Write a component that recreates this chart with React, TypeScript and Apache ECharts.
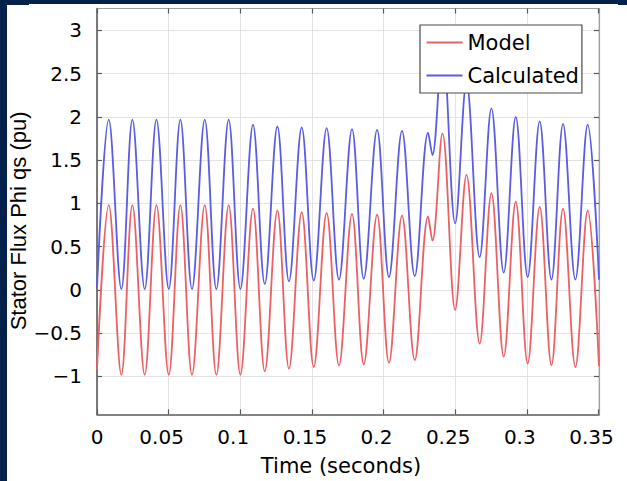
import React, { useEffect, useRef } from 'react';
import * as echarts from 'echarts';

// Time (s) of each read extremum (peaks / troughs) of the waveforms
const timeS = [
  0, 0.0082, 0.017, 0.0247, 0.0333, 0.0415, 0.0501, 0.0582, 0.0663, 0.0752,
  0.0833, 0.0919, 0.1001, 0.1089, 0.1171, 0.1259, 0.134, 0.1429, 0.1513, 0.1603,
  0.1689, 0.178, 0.1862, 0.1955, 0.2038, 0.2129, 0.2218, 0.2311, 0.2341, 0.2411,
  0.25, 0.2579, 0.2671, 0.2753, 0.2839, 0.2923, 0.3006, 0.309, 0.3172, 0.3253,
  0.3339, 0.3425, 0.3504,
];

const modelPhi = [
  -0.92, 0.98, -0.98, 0.98, -0.98, 0.98, -0.98, 0.98, -0.98, 0.98,
  -0.98, 0.98, -0.98, 0.94, -0.94, 0.92, -0.91, 0.9, -0.89, 0.89,
  -0.87, 0.88, -0.86, 0.87, -0.84, 0.86, -0.81, 0.85, 0.57, 1.81,
  -0.23, 1.33, -0.62, 1.12, -0.77, 1.02, -0.85, 0.96, -0.87, 0.94,
  -0.89, 0.92, -0.88,
];

const calculatedPhi = [
  0.02, 1.97, 0.01, 1.97, 0.01, 1.97, 0.01, 1.97, 0.01, 1.97,
  0.01, 1.97, 0.01, 1.91, 0.07, 1.89, 0.1, 1.88, 0.11, 1.87,
  0.12, 1.86, 0.13, 1.85, 0.15, 1.84, 0.16, 1.82, 1.56, 2.85,
  0.77, 2.4, 0.38, 2.1, 0.2, 2.0, 0.15, 1.95, 0.12, 1.92,
  0.12, 1.91, 0.12,
];

const seriesNames = ['Model', 'Calculated'];
const xTicks = [0, 0.05, 0.1, 0.15, 0.2, 0.25, 0.3, 0.35];
const yTicks = [-1, -0.5, 0, 0.5, 1, 1.5, 2, 2.5, 3];

export default function App() {
  const ref = useRef<HTMLDivElement>(null);

  useEffect(() => {
    document.body.style.margin = '0';
    const chart = echarts.init(ref.current!, null, { renderer: 'svg' });
    const font = 'DejaVu Sans';
    const navy = '#03214a';
    const dark = '#5a5a5a';
    const light = '#a0a0a0';
    const fmtY = (v: number) => String(v).replace('-', '\u2212');

    chart.setOption({
      animation: false,
      backgroundColor: '#ffffff',
      grid: {
        left: 97,
        right: 28,
        top: 8.5,
        bottom: 66.7,
        containLabel: false,
        outerBoundsMode: 'none',
      },
      legend: {
        orient: 'vertical',
        left: 420,
        top: 25,
        data: seriesNames,
        icon: 'rect',
        itemWidth: 36,
        itemHeight: 2.2,
        itemGap: 8,
        padding: [5, 3, 5, 6.5],
        backgroundColor: '#ffffff',
        borderColor: '#4a4a4a',
        borderWidth: 1.2,
        borderRadius: 0,
        textStyle: { fontFamily: font, fontSize: 21, color: '#000', lineHeight: 25 },
      },
      xAxis: [
        {
          type: 'value',
          min: 0,
          max: 0.3504,
          position: 'bottom',
          name: 'Time (seconds)',
          nameLocation: 'middle',
          nameGap: 41,
          nameMoveOverlap: false,
          nameTextStyle: {
            fontFamily: font,
            fontSize: 21,
            color: '#000',
            padding: [0, 14, 0, 0],
          },
          axisLine: { show: true, onZero: false, lineStyle: { color: dark, width: 1.6 } },
          axisTick: { show: true, inside: true, length: 5, customValues: xTicks, lineStyle: { color: dark, width: 1.2 } },
          axisLabel: {
            customValues: xTicks,
            margin: 13,
            fontFamily: font,
            fontSize: 20,
            color: '#000',
            formatter: (v: number) => (v === 0 ? '{z|0}' : '{a|' + v + '}'),
            rich: {
              z: { fontFamily: font, fontSize: 20, color: '#000' },
              a: { fontFamily: font, fontSize: 20, color: '#000', padding: [0, 14, 0, 0] },
            },
          },
          splitLine: { show: true, lineStyle: { color: '#e3e3e3', width: 1 } },
        },
        {
          type: 'value',
          min: 0,
          max: 0.3504,
          position: 'top',
          axisLine: { show: true, onZero: false, lineStyle: { color: light, width: 1.2 } },
          axisTick: { show: true, inside: true, length: 5, customValues: xTicks, lineStyle: { color: dark, width: 1.2 } },
          axisLabel: { show: false },
          splitLine: { show: false },
        },
      ],
      yAxis: [
        {
          type: 'value',
          min: -1.437,
          max: 3.254,
          position: 'left',
          name: 'Stator Flux Phi qs (pu)',
          nameLocation: 'middle',
          nameGap: 68,
          nameMoveOverlap: false,
          nameTextStyle: {
            fontFamily: 'Liberation Sans',
            fontSize: 22,
            color: '#000',
            padding: [0, 19, 0, 0],
          },
          axisLine: { show: true, onZero: false, lineStyle: { color: dark, width: 1.6 } },
          axisTick: { show: true, inside: true, length: 5, customValues: yTicks, lineStyle: { color: dark, width: 1.2 } },
          axisLabel: {
            customValues: yTicks,
            margin: 15,
            fontFamily: font,
            fontSize: 20,
            color: '#000',
            formatter: fmtY,
          },
          splitLine: { show: true, lineStyle: { color: '#e3e3e3', width: 1 } },
        },
        {
          type: 'value',
          min: -1.437,
          max: 3.254,
          position: 'right',
          axisLine: { show: true, onZero: false, lineStyle: { color: light, width: 1.2 } },
          axisTick: { show: true, inside: true, length: 5, customValues: yTicks, lineStyle: { color: dark, width: 1.2 } },
          axisLabel: { show: false },
          splitLine: { show: false },
        },
      ],
      series: [
        {
          name: seriesNames[0],
          type: 'line',
          xAxisIndex: 0,
          yAxisIndex: 0,
          data: timeS.map((t, i) => [t, modelPhi[i]]),
          smooth: 0.363,
          symbol: 'none',
          color: '#ec6063',
          lineStyle: { color: '#ec6063', width: 1.8 },
          z: 3,
        },
        {
          name: seriesNames[1],
          type: 'line',
          xAxisIndex: 0,
          yAxisIndex: 0,
          data: timeS.map((t, i) => [t, calculatedPhi[i]]),
          smooth: 0.363,
          symbol: 'none',
          color: '#5a5ce2',
          lineStyle: { color: '#5a5ce2', width: 1.8 },
          z: 3,
        },
      ],
      graphic: [
        { type: 'rect', silent: true, z: -10, shape: { x: 0, y: 0, width: 7, height: 481 }, style: { fill: navy } },
        { type: 'rect', silent: true, z: -10, shape: { x: 0, y: 0, width: 29, height: 5 }, style: { fill: navy } },
        { type: 'rect', silent: true, z: -10, shape: { x: 29, y: 0, width: 589, height: 4 }, style: { fill: navy } },
        { type: 'rect', silent: true, z: -10, shape: { x: 618, y: 0, width: 9, height: 5 }, style: { fill: navy } },
      ],
    });

    return () => chart.dispose();
  }, []);

  return (
    <div
      ref={ref}
      style={{ position: 'fixed', left: 0, top: 0, width: 627, height: 481, background: '#fff' }}
    />
  );
}
